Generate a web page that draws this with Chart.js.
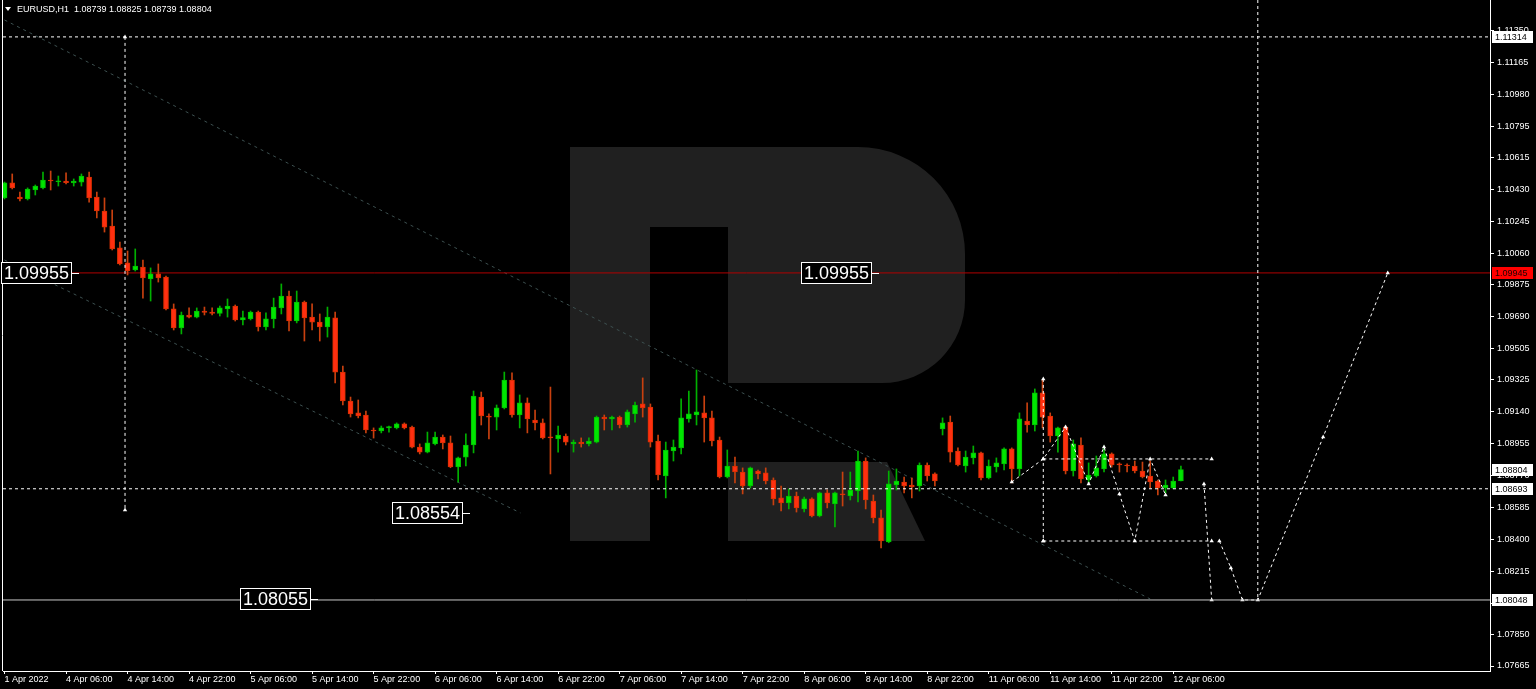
<!DOCTYPE html>
<html>
<head>
<meta charset="utf-8">
<style>
  html, body { margin: 0; padding: 0; background: #000; overflow: hidden; }
  canvas { display: block; }
</style>
<script src="https://cdn.jsdelivr.net/npm/chart.js@4.4.1/dist/chart.umd.min.js"></script>
</head>
<body>
<canvas id="graficoVelas" width="1536" height="689"></canvas>
<script>
// Velas EURUSD H1 (1 Abr 22:00 -> 12 Abr 07:00), una por hora
const aperturas = [
  1.10380, 1.10467, 1.10385, 1.10374, 1.10426, 1.10438, 1.10484, 1.10474, 1.10478, 1.10467,
  1.10472, 1.10501, 1.10385, 1.10304, 1.10217, 1.10090, 1.10003, 1.09962, 1.09979, 1.09910,
  1.09939, 1.09921, 1.09736, 1.09626, 1.09701, 1.09689, 1.09724, 1.09718, 1.09710, 1.09736,
  1.09753, 1.09672, 1.09678, 1.09718, 1.09632, 1.09678, 1.09742, 1.09811, 1.09666, 1.09776,
  1.09689, 1.09660, 1.09632, 1.09684, 1.09370, 1.09202, 1.09133, 1.09121, 1.09034, 1.09028,
  1.09046, 1.09046, 1.09069, 1.09051, 1.08935, 1.08906, 1.08953, 1.08993, 1.08959, 1.08819,
  1.08877, 1.08947, 1.09225, 1.09115, 1.09109, 1.09162, 1.09324, 1.09121, 1.09191, 1.09092,
  1.09075, 1.08993, 1.08982, 1.08999, 1.08953, 1.08964, 1.08953, 1.08964, 1.09109, 1.09098,
  1.09109, 1.09063, 1.09127, 1.09185, 1.09167, 1.08970, 1.08767, 1.08912, 1.08930, 1.09098,
  1.09121, 1.09133, 1.09104, 1.08976, 1.08761, 1.08825, 1.08790, 1.08709, 1.08796, 1.08785,
  1.08744, 1.08640, 1.08611, 1.08651, 1.08576, 1.08634, 1.08535, 1.08669, 1.08605, 1.08663,
  1.08651, 1.08680, 1.08854, 1.08622, 1.08524, 1.08385, 1.08715, 1.08732, 1.08715, 1.08709,
  1.08831, 1.08779, 1.09040, 1.09080, 1.08912, 1.08825, 1.08872, 1.08901, 1.08756, 1.08819,
  1.08837, 1.08924, 1.08808, 1.09086, 1.09063, 1.09249, 1.09115, 1.08999, 1.09051, 1.08796,
  1.08947, 1.08744, 1.08767, 1.08808, 1.08895, 1.08837, 1.08831, 1.08825, 1.08796, 1.08767,
  1.08738, 1.08698, 1.08698, 1.08739
];
const maximos = [
  1.10472, 1.10519, 1.10414, 1.10438, 1.10455, 1.10530, 1.10536, 1.10507, 1.10525, 1.10490,
  1.10519, 1.10530, 1.10414, 1.10380, 1.10310, 1.10124, 1.10072, 1.10084, 1.10020, 1.09974,
  1.09997, 1.09927, 1.09765, 1.09718, 1.09742, 1.09742, 1.09747, 1.09742, 1.09753, 1.09794,
  1.09759, 1.09724, 1.09724, 1.09724, 1.09713, 1.09799, 1.09881, 1.09840, 1.09840, 1.09782,
  1.09765, 1.09707, 1.09747, 1.09718, 1.09405, 1.09225, 1.09208, 1.09144, 1.09046, 1.09057,
  1.09057, 1.09075, 1.09075, 1.09057, 1.08953, 1.09022, 1.09022, 1.09005, 1.08999, 1.08877,
  1.09011, 1.09260, 1.09254, 1.09127, 1.09179, 1.09370, 1.09365, 1.09237, 1.09220, 1.09150,
  1.09098, 1.09283, 1.09057, 1.09011, 1.08976, 1.08988, 1.08988, 1.09115, 1.09121, 1.09115,
  1.09115, 1.09150, 1.09196, 1.09336, 1.09185, 1.09005, 1.08964, 1.08976, 1.09214, 1.09260,
  1.09382, 1.09231, 1.09144, 1.08993, 1.08918, 1.08877, 1.08814, 1.08819, 1.08802, 1.08814,
  1.08756, 1.08709, 1.08692, 1.08674, 1.08645, 1.08640, 1.08674, 1.08686, 1.08674, 1.08790,
  1.08790, 1.08912, 1.08872, 1.08657, 1.08570, 1.08796, 1.08808, 1.08761, 1.08756, 1.08843,
  1.08843, 1.08785, 1.09104, 1.09115, 1.08930, 1.08912, 1.08941, 1.08906, 1.08860, 1.08872,
  1.08930, 1.08930, 1.09133, 1.09191, 1.09272, 1.09324, 1.09133, 1.09051, 1.09057, 1.08976,
  1.08988, 1.08843, 1.08883, 1.08941, 1.08901, 1.08843, 1.08837, 1.08854, 1.08848, 1.08854,
  1.08744, 1.08744, 1.08761, 1.08825
];
const minimos = [
  1.10374, 1.10432, 1.10362, 1.10368, 1.10397, 1.10432, 1.10426, 1.10449, 1.10461, 1.10449,
  1.10449, 1.10356, 1.10264, 1.10182, 1.10078, 1.09991, 1.09933, 1.09956, 1.09799, 1.09782,
  1.09892, 1.09730, 1.09614, 1.09591, 1.09684, 1.09684, 1.09701, 1.09701, 1.09695, 1.09689,
  1.09666, 1.09643, 1.09672, 1.09608, 1.09614, 1.09626, 1.09707, 1.09608, 1.09655, 1.09550,
  1.09614, 1.09550, 1.09573, 1.09307, 1.09179, 1.09109, 1.09104, 1.09017, 1.08987, 1.09017,
  1.09022, 1.09040, 1.09040, 1.08930, 1.08895, 1.08901, 1.08947, 1.08924, 1.08815, 1.08732,
  1.08825, 1.08901, 1.09063, 1.08982, 1.09034, 1.09156, 1.09109, 1.09046, 1.09017, 1.09034,
  1.08982, 1.08779, 1.08906, 1.08947, 1.08906, 1.08935, 1.08941, 1.08959, 1.09034, 1.09034,
  1.09046, 1.09051, 1.09080, 1.09109, 1.08935, 1.08744, 1.08640, 1.08854, 1.08895, 1.09080,
  1.09063, 1.08964, 1.08941, 1.08756, 1.08756, 1.08727, 1.08663, 1.08698, 1.08750, 1.08721,
  1.08599, 1.08564, 1.08576, 1.08558, 1.08558, 1.08530, 1.08530, 1.08582, 1.08471, 1.08593,
  1.08628, 1.08616, 1.08576, 1.08495, 1.08350, 1.08380, 1.08686, 1.08669, 1.08640, 1.08680,
  1.08738, 1.08709, 1.09005, 1.08848, 1.08825, 1.08790, 1.08837, 1.08744, 1.08750, 1.08790,
  1.08802, 1.08727, 1.08767, 1.09022, 1.09028, 1.09046, 1.08964, 1.08906, 1.08779, 1.08767,
  1.08727, 1.08732, 1.08761, 1.08790, 1.08819, 1.08790, 1.08790, 1.08785, 1.08756, 1.08698,
  1.08657, 1.08669, 1.08693, 1.08739
];
const cierres = [
  1.10467, 1.10438, 1.10374, 1.10432, 1.10449, 1.10484, 1.10478, 1.10478, 1.10469, 1.10478,
  1.10507, 1.10380, 1.10304, 1.10211, 1.10084, 1.09997, 1.09956, 1.09985, 1.09916, 1.09939,
  1.09916, 1.09736, 1.09626, 1.09701, 1.09689, 1.09724, 1.09716, 1.09710, 1.09742, 1.09753,
  1.09672, 1.09686, 1.09718, 1.09632, 1.09678, 1.09747, 1.09811, 1.09666, 1.09776, 1.09684,
  1.09660, 1.09632, 1.09689, 1.09370, 1.09202, 1.09127, 1.09115, 1.09034, 1.09028, 1.09046,
  1.09054, 1.09069, 1.09046, 1.08935, 1.08906, 1.08959, 1.08993, 1.08959, 1.08819, 1.08872,
  1.08947, 1.09231, 1.09115, 1.09109, 1.09162, 1.09324, 1.09121, 1.09191, 1.09098, 1.09075,
  1.08988, 1.08988, 1.09005, 1.08964, 1.08964, 1.08953, 1.08970, 1.09109, 1.09098, 1.09109,
  1.09063, 1.09139, 1.09179, 1.09162, 1.08964, 1.08773, 1.08918, 1.08935, 1.09104, 1.09127,
  1.09139, 1.09104, 1.08970, 1.08761, 1.08825, 1.08790, 1.08709, 1.08814, 1.08779, 1.08738,
  1.08634, 1.08611, 1.08651, 1.08582, 1.08634, 1.08535, 1.08669, 1.08611, 1.08669, 1.08657,
  1.08686, 1.08854, 1.08628, 1.08524, 1.08390, 1.08721, 1.08738, 1.08709, 1.08703, 1.08831,
  1.08767, 1.08738, 1.09075, 1.08906, 1.08831, 1.08877, 1.08901, 1.08756, 1.08825, 1.08843,
  1.08924, 1.08808, 1.09098, 1.09063, 1.09249, 1.09109, 1.08999, 1.09046, 1.08796, 1.08953,
  1.08750, 1.08773, 1.08814, 1.08895, 1.08831, 1.08831, 1.08825, 1.08796, 1.08761, 1.08732,
  1.08698, 1.08715, 1.08738, 1.08804
];

// Etiquetas del eje de tiempo (una cada 8 velas) y del eje de precios
const etiquetasTiempo = [
  "1 Apr 2022", "4 Apr 06:00", "4 Apr 14:00", "4 Apr 22:00", "5 Apr 06:00", "5 Apr 14:00",
  "5 Apr 22:00", "6 Apr 06:00", "6 Apr 14:00", "6 Apr 22:00", "7 Apr 06:00", "7 Apr 14:00",
  "7 Apr 22:00", "8 Apr 06:00", "8 Apr 14:00", "8 Apr 22:00", "11 Apr 06:00", "11 Apr 14:00",
  "11 Apr 22:00", "12 Apr 06:00"
];
const marcasPrecio = [
  1.11350, 1.11165, 1.10980, 1.10795, 1.10615, 1.10430, 1.10245, 1.10060, 1.09875, 1.09690,
  1.09505, 1.09325, 1.09140, 1.08955, 1.08770, 1.08585, 1.08400, 1.08215, 1.08030, 1.07850, 1.07665
];

// Niveles horizontales
const nivelRojo = 1.09945;
const nivelSuperior = 1.11314;
const nivelPunteado = 1.08693;
const nivelInferior = 1.08048;

// Canal bajista (vela, precio)
const canalSuperior = [[0, 1.11412], [149, 1.08054]];
const canalInferior = [[0, 1.10020], [67.1, 1.08553]];

// Trazos del pronóstico (vela, precio)
const pronostico1 = [[131, 1.08732], [135.1, 1.08866], [138, 1.09051], [141, 1.08721], [143, 1.08935],
  [145, 1.08663], [147, 1.08390], [149, 1.08866], [151, 1.08657]];
const pronostico2 = [[156, 1.08721], [157, 1.08048]];
const pronostico3 = [[158, 1.08390], [159.5, 1.08234], [161, 1.08048], [163, 1.08048], [171.5, 1.08993], [179.9, 1.09945]];
const verticalPronostico = [[135.1, 1.09330], [135.1, 1.08390]];
const techoPronostico = [[135.1, 1.08866], [157, 1.08866]];
const pisoPronostico = [[135.1, 1.08390], [157, 1.08390]];
const verticalInicio = [[15.67, 1.11314], [15.67, 1.08570]];
const verticalFin = [[163, 1.11528], [163, 1.08048]];

// Rótulos en recuadro: texto, vela del borde derecho, precio
const rotulos = [
  ["1.09955", 8.8, 1.09945],
  ["1.09955", 112.8, 1.09945],
  ["1.08554", 59.6, 1.08554],
  ["1.08055", 39.9, 1.08055]
];

const X_MIN = -0.2, X_MAX = 193.2;
const Y_MIN = 1.07636, Y_MAX = 1.11528;

const VERDE = "#00e600", VERDE_MECHA = "#00b000";
const ROJO = "#ff2f10", ROJO_BORDE = "#d83000", ROJO_MECHA = "#c8400f";

const subidas = cierres.map((c, i) => c >= aperturas[i]);

const aPuntos = arr => arr.map(([x, y]) => ({ x, y }));

function linea(puntos, color, dash, marcas, orden) {
  return {
    type: "line",
    data: aPuntos(puntos),
    borderColor: color,
    borderWidth: 1,
    borderDash: dash,
    pointRadius: marcas ? 2.5 : 0,
    pointStyle: "triangle",
    pointBackgroundColor: "#ffffff",
    pointBorderWidth: 0,
    tension: 0,
    order: orden === undefined ? 0 : orden
  };
}

// Marca de agua (R) y fondo
const fondo = {
  id: "fondo",
  beforeDraw(chart) {
    const ctx = chart.ctx;
    ctx.save();
    ctx.fillStyle = "#000";
    ctx.fillRect(0, 0, chart.width, chart.height);
    ctx.fillStyle = "#202020";
    ctx.beginPath();
    ctx.moveTo(570, 147);
    ctx.lineTo(858, 147);
    ctx.arcTo(965, 147, 965, 254, 107);
    ctx.lineTo(965, 300);
    ctx.arcTo(965, 383, 882, 383, 83);
    ctx.lineTo(728, 383);
    ctx.lineTo(728, 227);
    ctx.lineTo(650, 227);
    ctx.lineTo(650, 541);
    ctx.lineTo(570, 541);
    ctx.closePath();
    ctx.fill();
    ctx.beginPath();
    ctx.moveTo(728, 462);
    ctx.lineTo(887, 462);
    ctx.lineTo(925, 541);
    ctx.lineTo(728, 541);
    ctx.closePath();
    ctx.fill();
    ctx.restore();
  }
};

// Rótulos, recuadros de precio del eje y encabezado
const extras = {
  id: "extras",
  afterDraw(chart) {
    const ctx = chart.ctx;
    const xs = chart.scales.x, ys = chart.scales.y;
    const area = chart.chartArea;
    ctx.save();

    // borde izquierdo
    ctx.strokeStyle = "#ffffff";
    ctx.lineWidth = 1;
    ctx.beginPath();
    ctx.moveTo(area.left - 0.5, 0);
    ctx.lineTo(area.left - 0.5, area.bottom);
    ctx.stroke();

    ctx.font = '18px "Liberation Sans"';
    ctx.textBaseline = "middle";
    ctx.textAlign = "center";
    rotulos.forEach(([txt, vela, precio]) => {
      const px = Math.round(xs.getPixelForValue(vela));
      const py = Math.round(ys.getPixelForValue(precio));
      const w = Math.round(ctx.measureText(txt).width) + 6;
      ctx.fillStyle = "#000";
      ctx.fillRect(px - w, py - 11, w, 22);
      ctx.strokeStyle = "#ffffff";
      ctx.strokeRect(px - w + 0.5, py - 10.5, w - 1, 21);
      ctx.beginPath();
      ctx.moveTo(px, py + 0.5);
      ctx.lineTo(px + 7, py + 0.5);
      ctx.stroke();
      ctx.fillStyle = "#ffffff";
      ctx.fillText(txt, px - w / 2, py + 1);
    });

    // recuadros en el eje de precios
    const cajas = [
      [nivelSuperior, "#ffffff", "#000000"],
      [nivelRojo, "#ff0000", "#200000"],
      [cierres[cierres.length - 1], "#ffffff", "#000000"],
      [nivelPunteado, "#ffffff", "#000000"],
      [nivelInferior, "#ffffff", "#000000"]
    ];
    ctx.font = '9px "Liberation Sans"';
    ctx.textAlign = "left";
    cajas.forEach(([precio, bg, fg]) => {
      const py = Math.round(ys.getPixelForValue(precio));
      ctx.fillStyle = bg;
      ctx.fillRect(area.right + 2, py - 6, 41, 12);
      ctx.fillStyle = fg;
      ctx.fillText(precio.toFixed(5), area.right + 5, py + 0.5);
    });

    // encabezado
    const n = cierres.length - 1;
    ctx.fillStyle = "#ffffff";
    ctx.beginPath();
    ctx.moveTo(5, 7);
    ctx.lineTo(11, 7);
    ctx.lineTo(8, 11);
    ctx.closePath();
    ctx.fill();
    ctx.fillText("EURUSD,H1  " + [aperturas[n], maximos[n], minimos[n], cierres[n]].map(v => v.toFixed(5)).join(" "), 17, 10);
    ctx.restore();
  }
};

const ctxVelas = document.getElementById("graficoVelas");
new Chart(ctxVelas, {
  type: "bar",
  data: {
    datasets: [
      // mechas
      {
        type: "bar",
        data: aperturas.map((o, i) => ({ x: i, y: [minimos[i], maximos[i]] })),
        backgroundColor: subidas.map(s => s ? VERDE_MECHA : ROJO_MECHA),
        barThickness: 1,
        minBarLength: 1,
        grouped: false,
        order: 2
      },
      // cuerpos
      {
        type: "bar",
        data: aperturas.map((o, i) => ({ x: i, y: [o, cierres[i]] })),
        backgroundColor: subidas.map(s => s ? VERDE : ROJO),
        borderColor: subidas.map(s => s ? "#00c000" : ROJO_BORDE),
        borderWidth: 1,
        borderSkipped: false,
        barThickness: 5,
        minBarLength: 1,
        grouped: false,
        order: 1
      },
      linea([[X_MIN, nivelRojo], [X_MAX, nivelRojo]], "#b00000", [], false, 3),
      linea(canalSuperior, "#3d5050", [3, 4], false, 3),
      linea(canalInferior, "#3d5050", [3, 4], false, 3),
      linea([[X_MIN, nivelSuperior], [X_MAX, nivelSuperior]], "#ffffff", [3, 3], false),
      linea([[X_MIN, nivelPunteado], [X_MAX, nivelPunteado]], "#ffffff", [3, 3], false),
      linea([[X_MIN, nivelInferior], [X_MAX, nivelInferior]], "#c8c8c8", [], false),
      linea(verticalInicio, "#ffffff", [3, 3], true),
      linea(verticalFin, "#ffffff", [3, 3], false),
      linea(verticalPronostico, "#ffffff", [3, 3], true),
      linea(techoPronostico, "#ffffff", [3, 3], true),
      linea(pisoPronostico, "#ffffff", [3, 3], true),
      linea(pronostico1, "#ffffff", [3, 3], true),
      linea(pronostico2, "#ffffff", [3, 3], true),
      linea(pronostico3, "#ffffff", [3, 3], true)
    ]
  },
  options: {
    responsive: false,
    animation: false,
    devicePixelRatio: 1,
    layout: { autoPadding: false, padding: { left: 3, top: 0, right: 0, bottom: 0 } },
    plugins: { legend: { display: false }, tooltip: { enabled: false } },
    scales: {
      x: {
        type: "linear",
        min: X_MIN,
        max: X_MAX,
        offset: false,
        afterBuildTicks: s => { s.ticks = etiquetasTiempo.map((t, k) => ({ value: k * 8 })); },
        afterFit: s => { s.height = 18; s.paddingLeft = 0; s.paddingRight = 0; },
        ticks: {
          autoSkip: false,
          maxRotation: 0,
          align: "start",
          padding: 0,
          color: "#ffffff",
          font: { family: "Liberation Sans", size: 9 },
          callback: (v) => etiquetasTiempo[Math.round(v / 8)]
        },
        grid: { display: true, drawOnChartArea: false, drawTicks: true, tickLength: 3, color: "#ffffff", offset: false },
        border: { display: true, color: "#ffffff" }
      },
      y: {
        type: "linear",
        position: "right",
        min: Y_MIN,
        max: Y_MAX,
        afterBuildTicks: s => { s.ticks = marcasPrecio.map(v => ({ value: v })); },
        afterFit: s => { s.width = 46; s.paddingTop = 0; s.paddingBottom = 0; },
        ticks: {
          color: "#ffffff",
          padding: 3,
          font: { family: "Liberation Sans", size: 9 },
          callback: v => v.toFixed(5)
        },
        grid: { display: true, drawOnChartArea: false, drawTicks: true, tickLength: 4, color: "#ffffff" },
        border: { display: true, color: "#ffffff" }
      }
    }
  },
  plugins: [fondo, extras]
});
</script>
</body>
</html>
